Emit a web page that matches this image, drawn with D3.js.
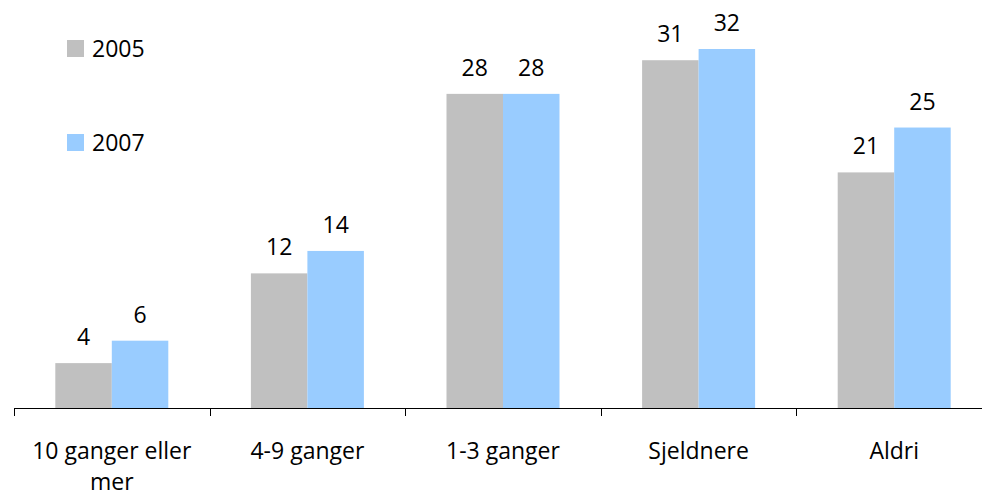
<!DOCTYPE html>
<html>
<head>
<meta charset="utf-8">
<script src="https://cdn.jsdelivr.net/npm/d3@7"></script>
<style>
  html, body { margin: 0; padding: 0; background: #fff; }
  svg text { font-family: "Open Sans", "DejaVu Sans", sans-serif; fill: #000; }
</style>
</head>
<body>
<svg id="chart" width="982" height="497"></svg>
<script>
// Frequency categories and the share (per cent) for each survey year
const categories = ["10 ganger eller mer", "4-9 ganger", "1-3 ganger", "Sjeldnere", "Aldri"];
const seriesNames = ["2005", "2007"];
const values2005 = [4, 12, 28, 31, 21];
const values2007 = [6, 14, 28, 32, 25];
const seriesColors = ["#C0C0C0", "#99CCFF"];

const svg = d3.select("#chart");
const fontSize = 23;

const baseline = 408;
const x0 = d3.scaleBand().domain(categories).range([14, 992]).padding(0);
const x1 = d3.scaleBand().domain(seriesNames).range([0, x0.bandwidth()])
  .paddingInner(0).paddingOuter(0.731);
const y = d3.scaleLinear().domain([0, 32]).range([baseline, baseline - 359]);

const series = [values2005, values2007];
const rows = categories.map((c, i) => ({
  category: c,
  bars: seriesNames.map((s, k) => ({ series: s, value: series[k][i], color: seriesColors[k] }))
}));

const groups = svg.append("g").selectAll("g")
  .data(rows).join("g")
  .attr("transform", d => `translate(${x0(d.category)},0)`);

groups.selectAll("rect")
  .data(d => d.bars).join("rect")
  .attr("x", d => x1(d.series))
  .attr("y", d => y(d.value))
  .attr("width", x1.bandwidth())
  .attr("height", d => y(0) - y(d.value))
  .attr("fill", d => d.color);

groups.selectAll("text.val")
  .data(d => d.bars).join("text")
  .attr("class", "val")
  .attr("x", d => x1(d.series) + x1.bandwidth() / 2)
  .attr("y", d => y(d.value) - 18)
  .attr("text-anchor", "middle")
  .style("font-size", fontSize + "px")
  .text(d => d.value);

// Category axis
const axis = d3.axisBottom(x0).tickSize(0).tickFormat("");
const axisG = svg.append("g").attr("transform", `translate(0,${baseline})`).call(axis);
axisG.select(".domain").attr("stroke", "#000").attr("stroke-width", 1)
  .attr("d", `M14,0.5H992`);
axisG.selectAll(".tick").remove();

// Tick marks at band boundaries
const boundaries = categories.map(c => x0(c)).concat([x0.range()[1]]);
axisG.selectAll("line.bound")
  .data(boundaries).join("line")
  .attr("class", "bound")
  .attr("x1", d => Math.round(d) + 0.5).attr("x2", d => Math.round(d) + 0.5)
  .attr("y1", 0).attr("y2", 8)
  .attr("stroke", "#000").attr("stroke-width", 1);

// Category labels, wrapped to the band width
function wrapWords(text, maxWidth) {
  const probe = svg.append("text").style("font-size", fontSize + "px");
  const words = text.split(" ");
  const lines = [];
  let line = [];
  words.forEach(w => {
    const attempt = line.concat([w]).join(" ");
    probe.text(attempt);
    if (probe.node().getComputedTextLength() > maxWidth && line.length) {
      lines.push(line.join(" "));
      line = [w];
    } else {
      line.push(w);
    }
  });
  if (line.length) lines.push(line.join(" "));
  probe.remove();
  return lines;
}

const labelG = svg.append("g");
const lineGap = 31;
categories.forEach(c => {
  const lines = wrapWords(c, x0.bandwidth() - 10);
  const t = labelG.append("text")
    .attr("text-anchor", "middle")
    .style("font-size", fontSize + "px")
    .attr("x", x0(c) + x0.bandwidth() / 2)
    .attr("y", baseline + 51);
  lines.forEach((l, i) => {
    t.append("tspan")
      .attr("x", x0(c) + x0.bandwidth() / 2)
      .attr("y", baseline + 51 + i * lineGap)
      .text(l);
  });
});

// Legend
const legend = svg.append("g").selectAll("g")
  .data(seriesNames).join("g")
  .attr("transform", (d, i) => `translate(67,${40 + i * 94})`);
legend.append("rect")
  .attr("width", 17).attr("height", 17)
  .attr("fill", (d, i) => seriesColors[i]);
legend.append("text")
  .attr("x", 25).attr("y", 17)
  .style("font-size", fontSize + "px")
  .text(d => d);
</script>
</body>
</html>
